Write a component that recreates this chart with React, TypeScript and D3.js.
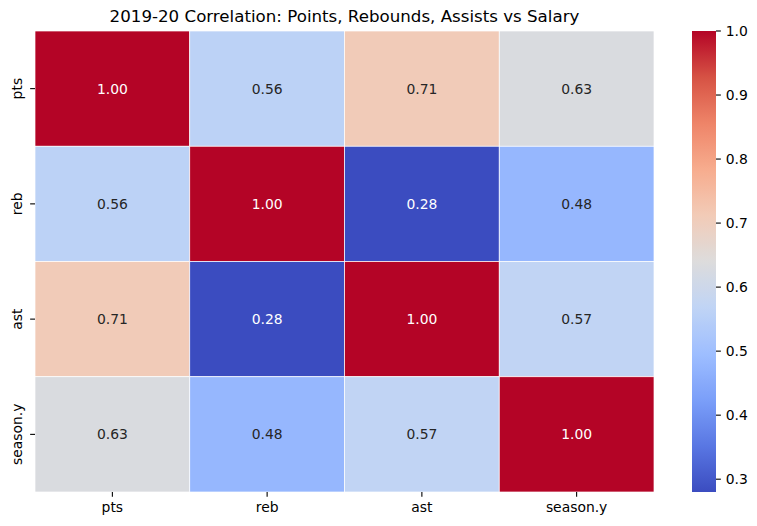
import React, { useEffect, useRef } from "react";
import * as d3 from "d3";

const labels = ["pts", "reb", "ast", "season.y"];
const corrRows = [
  [1.0, 0.56, 0.71, 0.63],
  [0.56, 1.0, 0.28, 0.48],
  [0.71, 0.28, 1.0, 0.57],
  [0.63, 0.48, 0.57, 1.0],
];
const colorTicks = [0.3, 0.4, 0.5, 0.6, 0.7, 0.8, 0.9, 1.0];
// coolwarm sampled at 0, 0.1, ..., 1
const coolwarmStops = [
  "#3b4cc0", "#5977e3", "#7b9ff9", "#9ebeff", "#c0d4f5", "#dddcdc",
  "#f2cbb7", "#f7ac8e", "#ee8468", "#d65244", "#b40426",
];

const W = 757;
const H = 526;
const font = "DejaVu Sans, sans-serif";
const fs = 13.9;
const tickLen = 4.86;

export default function App() {
  const ref = useRef<SVGSVGElement | null>(null);

  useEffect(() => {
    if (!ref.current) return;
    const svg = d3.select(ref.current);
    svg.selectAll("*").remove();

    const left = 35, right = 654, top = 31, bottom = 492;
    const vmin = d3.min(corrRows.flat()) as number;
    const vmax = d3.max(corrRows.flat()) as number;

    const interp = d3.piecewise(d3.interpolateRgb, coolwarmStops);
    const color = (v: number) => interp((v - vmin) / (vmax - vmin));

    const x = d3.scaleBand().domain(labels).range([left, right]);
    const y = d3.scaleBand().domain(labels).range([top, bottom]);

    const cells = corrRows.flatMap((row, i) =>
      row.map((v, j) => ({ r: labels[i], c: labels[j], v }))
    );

    svg.append("g")
      .selectAll("rect")
      .data(cells)
      .enter()
      .append("rect")
      .attr("x", d => x(d.c)!)
      .attr("y", d => y(d.r)!)
      .attr("width", x.bandwidth())
      .attr("height", y.bandwidth())
      .attr("fill", d => color(d.v))
      .attr("stroke", "#fff")
      .attr("stroke-width", 0.7);

    const lum = (c: string) => {
      const rgb = d3.rgb(c);
      const f = (u: number) => {
        u /= 255;
        return u <= 0.03928 ? u / 12.92 : Math.pow((u + 0.055) / 1.055, 2.4);
      };
      return 0.2126 * f(rgb.r) + 0.7152 * f(rgb.g) + 0.0722 * f(rgb.b);
    };

    svg.append("g")
      .selectAll("text")
      .data(cells)
      .enter()
      .append("text")
      .attr("x", d => x(d.c)! + x.bandwidth() / 2)
      .attr("y", d => y(d.r)! + y.bandwidth() / 2)
      .attr("dy", "0.36em")
      .attr("text-anchor", "middle")
      .attr("font-family", font)
      .attr("font-size", fs)
      .attr("fill", d => (lum(color(d.v)) > 0.408 ? "#262626" : "#ffffff"))
      .text(d => d.v.toFixed(2));

    // x axis
    const xa = svg.append("g");
    labels.forEach(l => {
      const cx = x(l)! + x.bandwidth() / 2;
      xa.append("line")
        .attr("x1", cx).attr("x2", cx)
        .attr("y1", bottom).attr("y2", bottom + tickLen)
        .attr("stroke", "#000").attr("stroke-width", 1.1);
      xa.append("text")
        .attr("x", cx).attr("y", bottom + 20)
        .attr("text-anchor", "middle")
        .attr("font-family", font).attr("font-size", fs)
        .attr("fill", "#000")
        .text(l);
    });

    // y axis
    const ya = svg.append("g");
    labels.forEach(l => {
      const cy = y(l)! + y.bandwidth() / 2;
      ya.append("line")
        .attr("x1", left - tickLen).attr("x2", left)
        .attr("y1", cy).attr("y2", cy)
        .attr("stroke", "#000").attr("stroke-width", 1.1);
      ya.append("text")
        .attr("transform", `translate(${left - 12.8},${cy}) rotate(-90)`)
        .attr("text-anchor", "middle")
        .attr("font-family", font).attr("font-size", fs)
        .attr("fill", "#000")
        .text(l);
    });

    // colorbar
    const cbL = 692, cbR = 716;
    const cy = d3.scaleLinear().domain([vmin, vmax]).range([bottom, top]);
    const grad = svg.append("defs").append("linearGradient")
      .attr("id", "cbgrad")
      .attr("x1", 0).attr("y1", 1).attr("x2", 0).attr("y2", 0);
    d3.range(0, 1.0001, 0.02).forEach(t => {
      grad.append("stop")
        .attr("offset", t)
        .attr("stop-color", interp(t));
    });
    svg.append("rect")
      .attr("x", cbL).attr("y", top)
      .attr("width", cbR - cbL).attr("height", bottom - top)
      .attr("fill", "url(#cbgrad)");

    const cb = svg.append("g");
    colorTicks.forEach(t => {
      cb.append("line")
        .attr("x1", cbR).attr("x2", cbR + tickLen)
        .attr("y1", cy(t)).attr("y2", cy(t))
        .attr("stroke", "#000").attr("stroke-width", 1.1);
      cb.append("text")
        .attr("x", cbR + 2 * tickLen).attr("y", cy(t))
        .attr("dy", "0.36em")
        .attr("font-family", font).attr("font-size", fs)
        .attr("fill", "#000")
        .text(t.toFixed(1));
    });

    svg.append("text")
      .attr("x", (left + right) / 2)
      .attr("y", 22)
      .attr("text-anchor", "middle")
      .attr("font-family", font)
      .attr("font-size", 16.67)
      .attr("fill", "#000")
      .text("2019-20 Correlation: Points, Rebounds, Assists vs Salary");
  }, []);

  return (
    <div style={{ position: "absolute", left: 0, top: 0 }}>
      <svg ref={ref} width={W} height={H} style={{ display: "block", background: "#fff" }} />
    </div>
  );
}
